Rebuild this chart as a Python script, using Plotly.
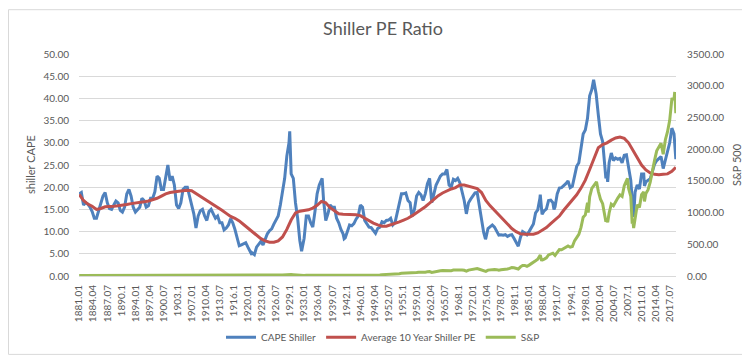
import plotly.graph_objects as go

# ---------------- data ----------------
tick_labels = ["1881.01", "1884.04", "1887.07", "1890.1", "1894.01", "1897.04", "1900.07", "1903.1",
               "1907.01", "1910.04", "1913.07", "1916.1", "1920.01", "1923.04", "1926.07", "1929.1",
               "1933.01", "1936.04", "1939.07", "1942.1", "1946.01", "1949.04", "1952.07", "1955.1",
               "1959.01", "1962.04", "1965.07", "1968.1", "1972.01", "1975.04", "1978.07", "1981.1",
               "1985.01", "1988.04", "1991.07", "1994.1", "1998.01", "2001.04", "2004.07", "2007.1",
               "2011.01", "2014.04", "2017.07"]

years = list(range(1881, 2019))
last_month = "2018.12"

# CAPE Shiller, [January, July] for each year
cape_jan_jul = [
    [18.5, 18.8], [16.0, 16.5], [16.2, 15.5], [14.5, 13.0], [13.0, 14.5], [16.5, 18.0], [18.8, 16.5], [15.2, 15.0], [16.0, 16.9], [16.5, 14.8],
    [14.4, 15.5], [18.5, 19.5], [18.0, 15.5], [14.4, 15.0], [15.5, 17.5], [17.0, 15.5], [15.8, 17.5], [17.5, 19.0], [22.5, 22.0], [19.5, 19.5],
    [22.0, 25.0], [21.5, 22.5], [20.5, 16.0], [15.2, 16.5], [19.5, 20.0], [20.0, 18.0], [16.5, 14.0], [10.8, 13.5], [14.7, 15.0], [13.5, 12.5],
    [14.5, 15.0], [14.0, 13.0], [13.5, 12.0], [12.0, 10.4], [10.8, 11.5], [12.9, 12.0], [10.5, 8.5], [6.8, 7.0], [7.2, 7.5], [6.5, 5.5],
    [5.2, 4.8], [6.5, 7.2], [7.8, 7.0], [8.5, 9.5], [10.2, 10.6], [11.7, 12.5], [13.5, 16.0], [19.0, 22.0], [27.0, 30.0], [23.0, 22.0],
    [16.5, 13.0], [8.0, 6.0], [8.5, 13.5], [13.5, 12.0], [11.0, 14.5], [18.5, 20.5], [21.5, 17.0], [12.5, 14.0], [16.0, 15.5], [15.5, 13.0],
    [12.0, 10.5], [9.5, 8.6], [10.0, 11.5], [11.3, 11.8], [12.8, 13.5], [16.0, 15.5], [12.5, 11.8], [11.0, 10.9], [10.3, 9.6], [10.7, 11.0],
    [12.2, 12.0], [12.5, 12.6], [13.0, 11.5], [12.0, 14.0], [16.0, 18.5], [18.5, 18.7], [17.0, 16.5], [13.6, 15.0], [18.0, 18.8], [18.3, 17.0],
    [18.5, 20.8], [22.0, 16.5], [18.5, 20.5], [21.5, 22.5], [23.0, 23.0], [24.0, 20.5], [20.0, 21.8], [21.5, 22.0], [21.0, 19.0], [17.0, 14.0],
    [16.5, 17.3], [18.0, 18.7], [18.8, 15.5], [13.0, 9.8], [8.5, 10.7], [11.2, 11.5], [11.0, 10.0], [9.2, 9.3], [9.2, 9.3], [8.9, 9.2],
    [9.3, 8.5], [7.4, 6.7], [8.7, 10.0], [9.7, 9.3], [10.0, 11.0], [11.7, 14.2], [14.9, 17.5], [13.9, 14.7], [15.1, 17.0], [17.1, 16.5],
    [15.6, 18.5], [19.8, 19.9], [20.3, 20.8], [21.4, 19.9], [20.2, 22.5], [24.7, 25.5], [28.3, 32.0], [32.9, 35.5], [40.6, 42.0], [43.8, 41.0],
    [36.3, 32.0], [30.3, 24.7], [22.9, 25.5], [27.7, 26.0], [26.6, 26.3], [26.5, 25.5], [27.2, 27.3], [24.0, 21.6], [15.2, 18.9], [20.5, 19.6],
    [23.0, 23.0], [21.2, 21.5], [21.9, 23.5], [25.2, 26.0], [26.5, 26.9], [24.2, 26.0], [28.1, 30.0], [33.3, 32.0],
]
cape_extra_months = ["1920.12", "1929.09", "1932.06", "1937.03", "1942.04", "1957.12", "1974.12", "1987.08",
                     "1990.10", "1999.12", "2002.10", "2003.03", "2009.03", "2011.09", "2018.12"]
cape_extra_values = [4.8, 32.6, 5.6, 22.0, 8.4, 13.4, 8.3, 18.3, 15.0, 44.2, 22.0, 21.2, 13.3, 20.3, 26.3]

# Average 10 Year Shiller PE, January of each year
avg10_jan = [
    18.4, 17.0, 16.2, 15.7, 15.0, 15.2, 15.6, 15.6, 15.7, 15.8,
    15.9, 16.1, 16.3, 16.4, 16.5, 16.7, 16.9, 17.2, 17.5, 18.0,
    18.5, 18.8, 19.0, 19.1, 19.2, 19.3, 19.2, 18.6, 18.0, 17.4,
    16.8, 16.2, 15.4, 14.8, 14.1, 13.4, 13.0, 12.4, 11.6, 10.8,
    10.0, 9.2, 8.4, 7.9, 7.6, 7.6, 7.9, 8.8, 10.5, 12.6,
    14.2, 14.6, 14.7, 14.9, 15.3, 15.9, 16.8, 16.5, 15.4, 14.6,
    14.0, 13.9, 13.9, 13.9, 13.8, 13.6, 13.0, 12.4, 11.9, 11.5,
    11.2, 11.2, 11.5, 11.8, 12.2, 12.6, 13.0, 13.6, 14.2, 14.9,
    15.6, 16.4, 17.3, 18.1, 18.7, 19.2, 19.6, 19.9, 20.5, 20.5,
    20.2, 20.0, 19.7, 18.8, 17.0, 15.8, 14.8, 13.6, 12.6, 11.6,
    10.7, 10.0, 9.5, 9.4, 9.4, 9.4, 9.7, 10.3, 10.9, 11.8,
    12.6, 13.5, 14.8, 16.0, 17.1, 18.3, 19.8, 21.6, 24.0, 26.6,
    28.9, 29.6, 30.0, 30.6, 31.1, 31.3, 31.0, 30.0, 28.3, 26.6,
    25.0, 23.9, 23.2, 22.9, 22.8, 22.9, 23.0, 23.6,
]
avg10_last = 24.5

# S&P, [January, July] for each year
sp_jan_jul = [
    [6.2, 6.2], [5.9, 5.8], [5.8, 5.4], [5.2, 4.6], [4.3, 4.7], [5.2, 5.3], [5.6, 5.4], [5.0, 5.0], [5.2, 5.3], [5.4, 5.5],
    [4.9, 4.8], [5.5, 5.5], [5.6, 4.5], [4.3, 4.2], [4.3, 4.6], [4.3, 4.0], [4.2, 4.5], [4.9, 5.0], [6.1, 6.3], [6.1, 5.9],
    [7.1, 7.6], [8.1, 8.3], [8.0, 6.6], [6.7, 7.0], [8.4, 8.6], [9.6, 8.8], [8.7, 7.8], [6.9, 7.7], [8.9, 9.3], [9.3, 8.0],
    [8.8, 9.0], [8.9, 9.1], [8.8, 7.7], [8.0, 7.6], [7.5, 8.0], [9.4, 8.9], [9.6, 8.8], [7.2, 7.7], [7.9, 9.4], [8.8, 8.0],
    [7.1, 6.8], [7.3, 8.3], [8.9, 8.5], [9.2, 9.2], [11.0, 11.6], [13.4, 13.1], [13.4, 15.4], [17.5, 19.0], [24.9, 29.4], [21.7, 20.6],
    [16.0, 14.3], [8.3, 4.8], [7.1, 11.2], [10.5, 9.5], [9.3, 11.0], [14.5, 15.1], [17.0, 15.8], [11.3, 12.2], [12.5, 11.6], [12.1, 9.7],
    [10.1, 9.9], [8.9, 8.7], [10.1, 12.1], [11.9, 12.9], [13.5, 14.8], [18.0, 18.1], [15.2, 15.6], [14.8, 16.4], [15.4, 14.8], [16.9, 17.6],
    [21.2, 21.6], [24.1, 24.9], [26.2, 24.3], [25.5, 30.3], [36.6, 42.7], [44.2, 47.8], [45.4, 48.4], [41.1, 45.3], [55.6, 59.7], [58.0, 55.5],
    [59.7, 65.4], [69.1, 55.6], [65.1, 69.1], [76.5, 83.2], [86.1, 84.9], [93.3, 85.8], [84.5, 93.0], [95.0, 100.3], [102.0, 94.7], [90.3, 75.7],
    [93.5, 99.0], [103.3, 107.2], [116.0, 105.8], [96.1, 82.8], [72.6, 92.5], [96.9, 104.2], [103.8, 99.8], [90.3, 97.2], [99.7, 102.7], [110.9, 119.8],
    [133.0, 129.1], [117.3, 109.4], [144.3, 166.4], [166.4, 151.1], [171.6, 192.5], [208.2, 240.2], [264.5, 310.1], [250.5, 266.7], [285.4, 331.9], [340.0, 360.0],
    [325.5, 380.2], [416.1, 414.8], [435.2, 445.0], [473.0, 453.7], [465.3, 554.5], [614.4, 654.9], [766.2, 925.3], [963.4, 1156.6], [1248.8, 1381.0], [1425.6, 1462.9],
    [1335.6, 1211.2], [1140.2, 909.9], [895.8, 993.8], [1132.5, 1105.9], [1181.4, 1227.9], [1278.7, 1254.3], [1424.2, 1518.1], [1378.8, 1257.3], [865.6, 936.0], [1123.6, 1079.8],
    [1282.6, 1325.2], [1300.6, 1359.8], [1480.4, 1668.7], [1822.4, 1973.1], [2028.2, 2094.1], [1918.6, 2148.9], [2275.1, 2454.1], [2789.8, 2793.6],
]
sp_extra_months = ["1929.09", "1987.08", "1987.12", "1998.09", "2000.08", "2002.10", "2003.03", "2007.10",
                   "2008.11", "2009.03", "2011.09", "2018.09", "2018.12"]
sp_extra_values = [31.3, 329.4, 240.0, 1000.0, 1485.5, 854.6, 846.6, 1539.7, 826.0, 757.1, 1175.0, 2901.5, 2567.3]


# ---------------- helpers ----------------
def month_index(label):
    y, m = label.split(".")
    month = int(m) if len(m) == 2 else int(m) * 10
    return (int(y) - 1881) * 12 + month - 1


def semiannual_series(yrs, pairs, extra_months, extra_values):
    pts = {}
    for yr, (jan, jul) in zip(yrs, pairs):
        pts[month_index(f"{yr}.01")] = jan
        pts[month_index(f"{yr}.07")] = jul
    for d, v in zip(extra_months, extra_values):
        pts[month_index(d)] = v
    xs = sorted(pts)
    return xs, [pts[x] for x in xs]


cape_x, cape_y = semiannual_series(years, cape_jan_jul, cape_extra_months, cape_extra_values)
sp_x, sp_y = semiannual_series(years, sp_jan_jul, sp_extra_months, sp_extra_values)
avg_x = [month_index(f"{yr}.01") for yr in years] + [month_index(last_month)]
avg_y = avg10_jan + [avg10_last]

n_months = month_index(last_month) + 1

BLUE = "#4F81BD"
RED = "#C0504D"
GREEN = "#9BBB59"
GRID = "#D9D9D9"
TXT = "#595959"
FONT = "Lato"

fig = go.Figure()
fig.add_trace(go.Scatter(x=cape_x, y=cape_y, mode="lines", name="CAPE Shiller",
                         line=dict(color=BLUE, width=3)))
fig.add_trace(go.Scatter(x=avg_x, y=avg_y, mode="lines", name="Average 10 Year Shiller PE",
                         line=dict(color=RED, width=3)))
fig.add_trace(go.Scatter(x=sp_x, y=sp_y, mode="lines", name="S&P", yaxis="y2",
                         line=dict(color=GREEN, width=3)))

L, R, T, B = 71, 82, 46, 82
W, H = 750, 356
pw, ph = W - L - R, H - T - B

fig.update_layout(
    width=W, height=H,
    margin=dict(l=L, r=R, t=T, b=B),
    paper_bgcolor="white", plot_bgcolor="white",
    font=dict(family=FONT, color=TXT, size=10),
    title=dict(text="Shiller PE Ratio", x=0.5, xref="container", xanchor="center",
               y=1 - 21 / H, yref="container", yanchor="middle",
               font=dict(family=FONT, size=18, color=TXT)),
    showlegend=True,
    legend=dict(orientation="h", x=(375 - L) / pw, xanchor="center",
                y=(H - B - 337) / ph, yanchor="middle",
                font=dict(family=FONT, size=10, color=TXT), bgcolor="rgba(0,0,0,0)"),
    xaxis=dict(range=[-0.5, n_months - 0.5], tickmode="array",
               tickvals=[month_index(t) for t in tick_labels], ticktext=tick_labels,
               tickangle=-90, showgrid=False, zeroline=False, showline=True,
               linecolor=GRID, ticks="", ticklabelstandoff=4,
               tickfont=dict(family=FONT, size=10, color=TXT)),
    yaxis=dict(range=[0, 50], dtick=5, tickformat=".2f", showgrid=True, gridcolor=GRID,
               gridwidth=1, zeroline=False, showline=False, ticks="", ticklabelstandoff=9,
               tickfont=dict(family=FONT, size=10, color=TXT)),
    yaxis2=dict(range=[0, 3500], dtick=500, tickformat=".2f", overlaying="y", side="right",
                showgrid=False, zeroline=False, showline=False, ticks="", ticklabelstandoff=10,
                tickfont=dict(family=FONT, size=10, color=TXT)),
    annotations=[
        dict(text="shiller CAPE", textangle=-90, xref="paper", yref="paper",
             x=(22 - L) / pw, y=0.5, xanchor="center", yanchor="middle", showarrow=False,
             font=dict(family=FONT, size=11, color=TXT)),
        dict(text="S&P 500", textangle=-90, xref="paper", yref="paper",
             x=(728 - L) / pw, y=0.5, xanchor="center", yanchor="middle", showarrow=False,
             font=dict(family=FONT, size=11, color=TXT)),
    ],
    shapes=[dict(type="rect", xref="paper", yref="paper",
                 x0=(0.5 - L) / pw, x1=(748.5 - L) / pw,
                 y0=(H - B - 354.5) / ph, y1=(H - B - 0.5) / ph,
                 line=dict(color=GRID, width=1), fillcolor="rgba(0,0,0,0)", layer="below")],
)

fig.write_html("out.html")
